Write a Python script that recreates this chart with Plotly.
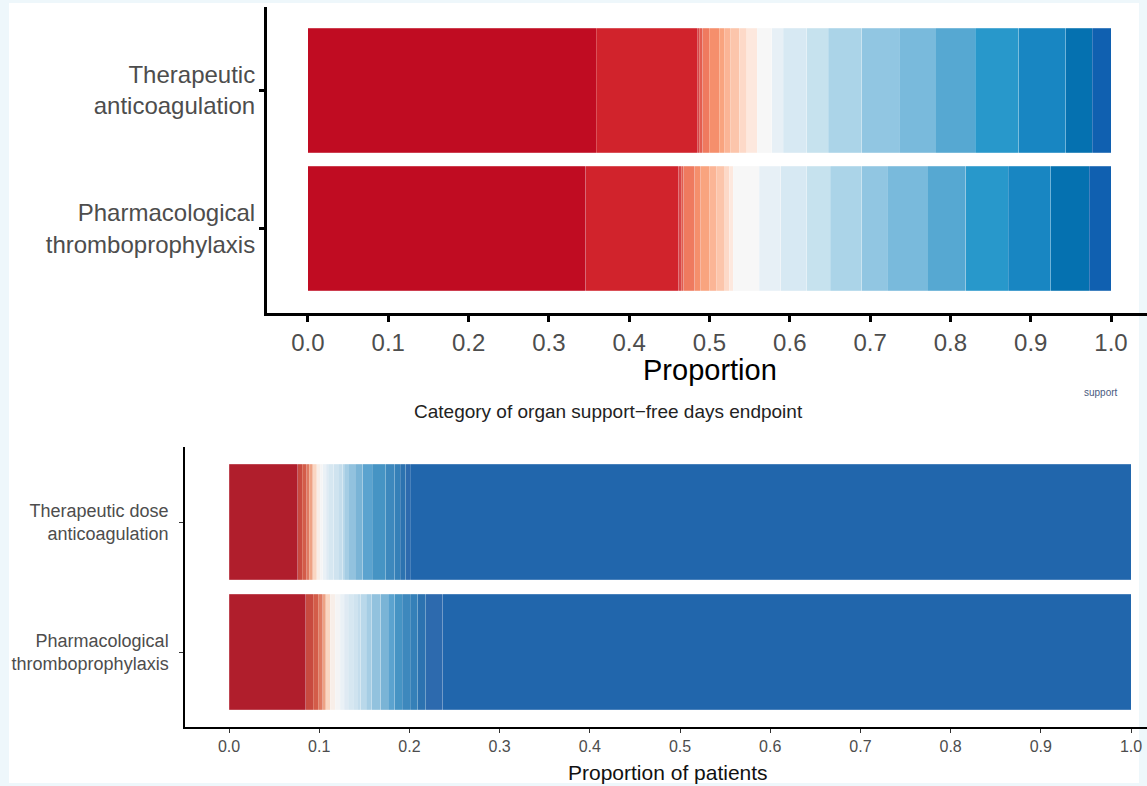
import plotly.graph_objects as go

# ---------------- data ----------------
top_groups = ["Pharmacological<br>thromboprophylaxis", "Therapeutic<br>anticoagulation"]
bot_groups = ["Pharmacological<br>thromboprophylaxis", "Therapeutic dose<br>anticoagulation"]

top_levels = [str(v) for v in range(-1, 22)]   # -1 (death) ... 21
bot_levels = [str(v) for v in range(-1, 23)]   # -1 (death) ... 22

# proportions per level (top panel)
top_therapeutic = [0.359, 0.126, 0.0025, 0.0042, 0.0083, 0.0124, 0.0062, 0.0071, 0.0116,
                   0.0092, 0.0132, 0.0180, 0.0144, 0.0291, 0.0269, 0.0416, 0.0469, 0.0444,
                   0.0498, 0.0540, 0.0590, 0.0331, 0.0231]
top_pharmaco = [0.3462, 0.1158, 0.0031, 0.0031, 0.0137, 0.0071, 0.0108, 0.0092, 0.0103,
                0.0050, 0.0053, 0.0324, 0.0267, 0.0323, 0.0291, 0.0394, 0.0319, 0.0498,
                0.0479, 0.0530, 0.0528, 0.0477, 0.0274]

# proportions per level (bottom panel)
bot_therapeutic = [0.076, 0.005, 0.005, 0.003, 0.004, 0.004, 0.004, 0.003, 0.004, 0.002,
                   0.006, 0.005, 0.005, 0.002, 0.004, 0.008, 0.008, 0.011, 0.015, 0.010,
                   0.006, 0.006, 0.005, 0.799]
bot_pharmaco = [0.0848, 0.0087, 0.0055, 0.0049, 0.0036, 0.0045, 0.0055, 0.0056, 0.0044,
                0.0048, 0.0052, 0.0047, 0.0041, 0.0056, 0.0063, 0.0100, 0.0081, 0.0077,
                0.0083, 0.0084, 0.0088, 0.0086, 0.0188, 0.7631]

x_ticks = [0.0, 0.1, 0.2, 0.3, 0.4, 0.5, 0.6, 0.7, 0.8, 0.9, 1.0]
x_ticktext = ["0.0", "0.1", "0.2", "0.3", "0.4", "0.5", "0.6", "0.7", "0.8", "0.9", "1.0"]

# ---------------- styles ----------------
top_colors = ["#c00c22", "#d1232c", "#d6464a", "#e25e50", "#ef7a5f", "#f58f6c", "#f9a47f",
              "#fbb596", "#fcc5ab", "#fdd9c8", "#fde8de", "#f7f7f7", "#e7f0f6", "#d7e9f3",
              "#c6e2ee", "#abd4e8", "#91c6e2", "#79badc", "#56a8d2", "#2898cb", "#1886c2",
              "#0571b0", "#1060b0"]
bot_colors = ["#b01e2c", "#c84a3f", "#d35c49", "#df7a62", "#eea284", "#fad6c2", "#f8eee8",
              "#f4f4f5", "#eaf1f6", "#dfeaf3", "#d6e7f1", "#cfe3ef", "#c4ddec", "#b9d8ea",
              "#a5cde4", "#92c2de", "#7ab4d6", "#5ba3cf", "#4694c4", "#3d88bd", "#3580b8",
              "#2c72b0", "#2d6aae", "#2166ac"]

FONT = "Liberation Sans, Arial, Helvetica, sans-serif"
W, H = 1147, 786

fig = go.Figure()

for i, lev in enumerate(top_levels):
    fig.add_trace(go.Bar(
        y=top_groups, x=[top_pharmaco[i], top_therapeutic[i]], orientation="h",
        marker=dict(color=top_colors[i], line=dict(width=0.6, color="rgba(255,255,255,0.35)")),
        width=0.9, name=lev, showlegend=False, xaxis="x", yaxis="y"))

for i, lev in enumerate(bot_levels):
    fig.add_trace(go.Bar(
        y=bot_groups, x=[bot_pharmaco[i], bot_therapeutic[i]], orientation="h",
        marker=dict(color=bot_colors[i], line=dict(width=0.6, color="rgba(255,255,255,0.3)")),
        width=0.89, name=lev, showlegend=False, xaxis="x2", yaxis="y2"))

def px_x(p):
    return p / W

def px_y(p):
    return 1 - p / H

fig.update_layout(
    width=W, height=H, barmode="stack", bargap=0.1,
    margin=dict(l=0, r=0, t=0, b=0),
    paper_bgcolor="#eef7fb", plot_bgcolor="rgba(0,0,0,0)",
    font=dict(family=FONT, color="#4d4d4d"),
    xaxis=dict(domain=[px_x(267), 1.0], anchor="y", range=[-0.051, 1.0448],
               tickvals=x_ticks, ticktext=x_ticktext, showgrid=False, zeroline=False,
               showline=True, linecolor="black", linewidth=3, ticks="outside",
               ticklen=6, tickwidth=2.5, tickcolor="black",
               tickfont=dict(size=24, color="#4d4d4d", family=FONT)),
    yaxis=dict(domain=[px_y(313), px_y(7)], anchor="x", type="category",
               categoryorder="array", categoryarray=top_groups, range=[-0.612, 1.605],
               showgrid=False, zeroline=False, showline=True, linecolor="black",
               linewidth=3, ticks="outside", ticklen=5, tickwidth=2.5, tickcolor="black",
               ticklabelstandoff=-1,
               tickfont=dict(size=24, color="#4d4d4d", family=FONT)),
    xaxis2=dict(domain=[px_x(185), 1.0], anchor="y2", range=[-0.0488, 1.0177],
                tickvals=x_ticks, ticktext=x_ticktext, showgrid=False, zeroline=False,
                showline=True, linecolor="black", linewidth=1.5, ticks="outside",
                ticklen=4, tickwidth=1.2, tickcolor="#333333",
                tickfont=dict(size=16, color="#4d4d4d", family=FONT)),
    yaxis2=dict(domain=[px_y(727), px_y(447)], anchor="x2", type="category",
                categoryorder="array", categoryarray=bot_groups, range=[-0.577, 1.577],
                showgrid=False, zeroline=False, showline=True, linecolor="black",
                linewidth=1.5, ticks="outside", ticklen=4, tickwidth=1.2,
                tickcolor="#333333", ticklabelstandoff=7,
                tickfont=dict(size=18, color="#4d4d4d", family=FONT)),
    shapes=[dict(type="rect", xref="paper", yref="paper", x0=px_x(9), x1=px_x(1139),
                 y0=px_y(783), y1=px_y(3), fillcolor="white", line=dict(width=0),
                 layer="below")],
    annotations=[
        dict(text="Proportion", xref="paper", yref="paper", x=px_x(710), y=px_y(370),
             xanchor="center", yanchor="middle", showarrow=False,
             font=dict(size=29, color="black", family=FONT)),
        dict(text="Category of organ support\u2212free days endpoint", xref="paper",
             yref="paper", x=px_x(608), y=px_y(411), xanchor="center", yanchor="middle",
             showarrow=False, font=dict(size=19, color="#222222", family=FONT)),
        dict(text="support", xref="paper", yref="paper", x=px_x(1082), y=px_y(392),
             xanchor="left", yanchor="middle", showarrow=False,
             font=dict(size=10, color="#4a5a80", family=FONT)),
        dict(text="Proportion of patients", xref="paper", yref="paper", x=px_x(668),
             y=px_y(772), xanchor="center", yanchor="middle", showarrow=False,
             font=dict(size=21, color="#111111", family=FONT)),
    ],
)

fig.write_html("out.html", config={"displayModeBar": False},
               post_script="document.body.style.margin='0';document.body.style.overflow='hidden';")
